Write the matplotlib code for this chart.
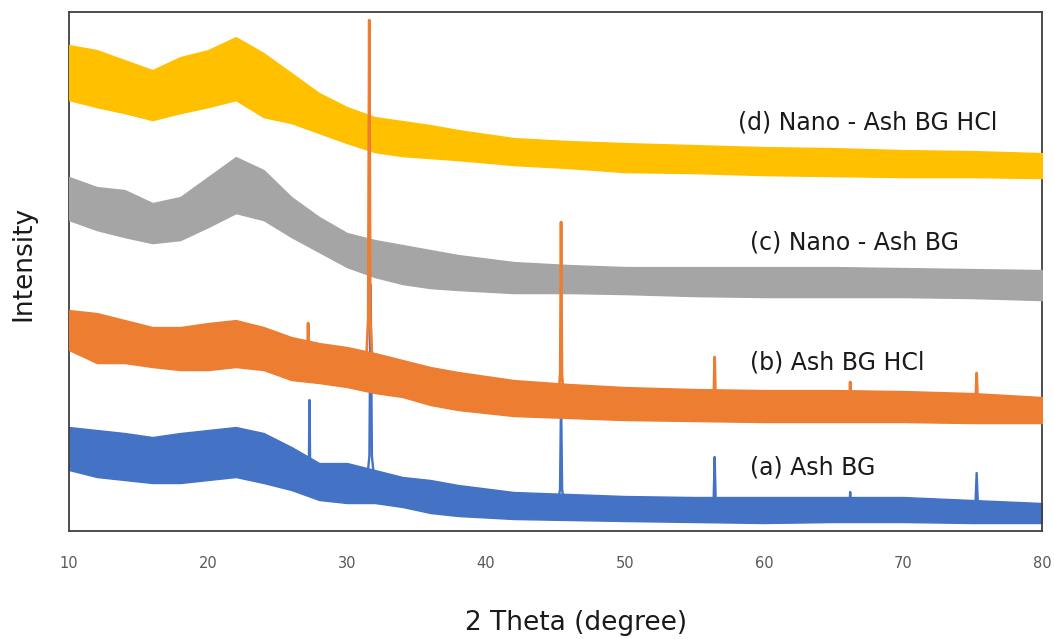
import numpy as np
import matplotlib
matplotlib.use('Agg')
import matplotlib.pyplot as plt

# 2 theta sample positions for the noisy background bands
theta = [10, 12, 14, 16, 18, 20, 22, 24, 26, 28, 30, 32, 34, 36, 38, 42, 46, 50, 55, 60, 65, 70, 75, 80]

# band limits (upper / lower edge of the noisy trace), arbitrary units
d_hi = [486, 481, 471, 461, 474, 481, 494, 478, 458, 438, 424, 414, 410, 406, 401, 393, 390, 388, 386, 384, 383, 381, 380, 378]
d_lo = [431, 424, 418, 411, 418, 424, 431, 414, 408, 398, 388, 379, 375, 373, 371, 366, 363, 359, 358, 356, 355, 354, 354, 353]
c_hi = [354, 344, 341, 328, 334, 354, 374, 361, 334, 314, 298, 291, 286, 281, 276, 269, 266, 264, 264, 264, 264, 263, 262, 261]
c_lo = [311, 301, 294, 288, 291, 304, 318, 311, 294, 279, 264, 254, 247, 243, 241, 238, 238, 237, 235, 234, 234, 234, 233, 231]
b_hi = [221, 218, 211, 204, 204, 208, 211, 204, 194, 188, 184, 178, 171, 164, 159, 151, 147, 144, 142, 141, 141, 140, 138, 134]
b_lo = [181, 168, 168, 164, 161, 161, 164, 161, 151, 148, 144, 138, 134, 126, 121, 115, 113, 111, 110, 109, 109, 109, 108, 108]
a_hi = [104, 101, 98, 94, 98, 101, 104, 98, 84, 68, 68, 61, 54, 51, 46, 39, 37, 35, 34, 34, 34, 34, 31, 28]
a_lo = [61, 54, 51, 48, 48, 51, 54, 48, 41, 31, 28, 28, 24, 18, 15, 12, 11, 10, 9, 8, 9, 9, 8, 8]

# diffraction peaks: position, top, base, half width
a_pk_pos = [27.3, 31.7, 45.4, 56.45, 66.2, 75.3]
a_pk_top = [131, 246, 136, 74, 39, 58]
a_pk_base = [55, 45, 25, 22, 22, 20]
a_pk_w = [0.15, 0.3, 0.25, 0.25, 0.15, 0.3]

b_pk_pos = [27.2, 31.6, 45.4, 56.45, 66.2, 75.3]
b_pk_top = [208, 511, 309, 174, 149, 158]
b_pk_base = [172, 160, 131, 126, 125, 123]
b_pk_w = [0.15, 0.25, 0.2, 0.2, 0.15, 0.25]

labels = ['(a) Ash BG', '(b) Ash BG HCl', '(c) Nano - Ash BG', '(d) Nano - Ash BG HCl']
label_x = [58.99, 58.99, 58.99, 58.13]
label_y = [64, 169, 289, 409]
colors = ['#4472C4', '#ED7D31', '#A5A5A5', '#FFC000']

fig = plt.figure(figsize=(10.54, 6.39), dpi=100)
ax = fig.add_axes([0.0655, 0.169, 0.9231, 0.812])

bands = [(a_lo, a_hi), (b_lo, b_hi), (c_lo, c_hi), (d_lo, d_hi)]
zorders = [2, 5, 3, 4]
for (lo, hi), col, z in zip(bands, colors, zorders):
    ax.fill_between(theta, lo, hi, color=col, lw=1.0, edgecolor=col, zorder=z)


def draw_peaks(pos, top, base, w, col, lw, z):
    for p, t, b, hw in zip(pos, top, base, w):
        ax.plot([p - hw, p - hw * 0.3, p, p + hw * 0.3, p + hw],
                [b, b + (t - b) * 0.15, t, b + (t - b) * 0.15, b],
                color=col, lw=lw, zorder=z, solid_joinstyle='round')


draw_peaks(a_pk_pos, a_pk_top, a_pk_base, a_pk_w, colors[0], 1.7, 2.5)
draw_peaks(b_pk_pos, b_pk_top, b_pk_base, b_pk_w, colors[1], 2.0, 6)

for txt, x, y in zip(labels, label_x, label_y):
    ax.text(x, y, txt, fontsize=17, color='#1a1a1a', va='center', ha='left', zorder=7)

ax.set_xlim(10, 80)
ax.set_ylim(0, 519)
ax.set_xticks([10, 20, 30, 40, 50, 60, 70, 80])
ax.set_yticks([])
ax.tick_params(axis='x', length=0, pad=18, labelsize=10.5, labelcolor='#595959')
for s in ax.spines.values():
    s.set_color('#404040')
    s.set_linewidth(1.3)

fig.text(0.5465, 0.025, '2 Theta (degree)', fontsize=19, ha='center', va='center', color='#1a1a1a')
fig.text(0.0218, 0.588, 'Intensity', fontsize=19, rotation=90, ha='center', va='center', color='#1a1a1a')

fig.savefig('out.png', dpi=100)
